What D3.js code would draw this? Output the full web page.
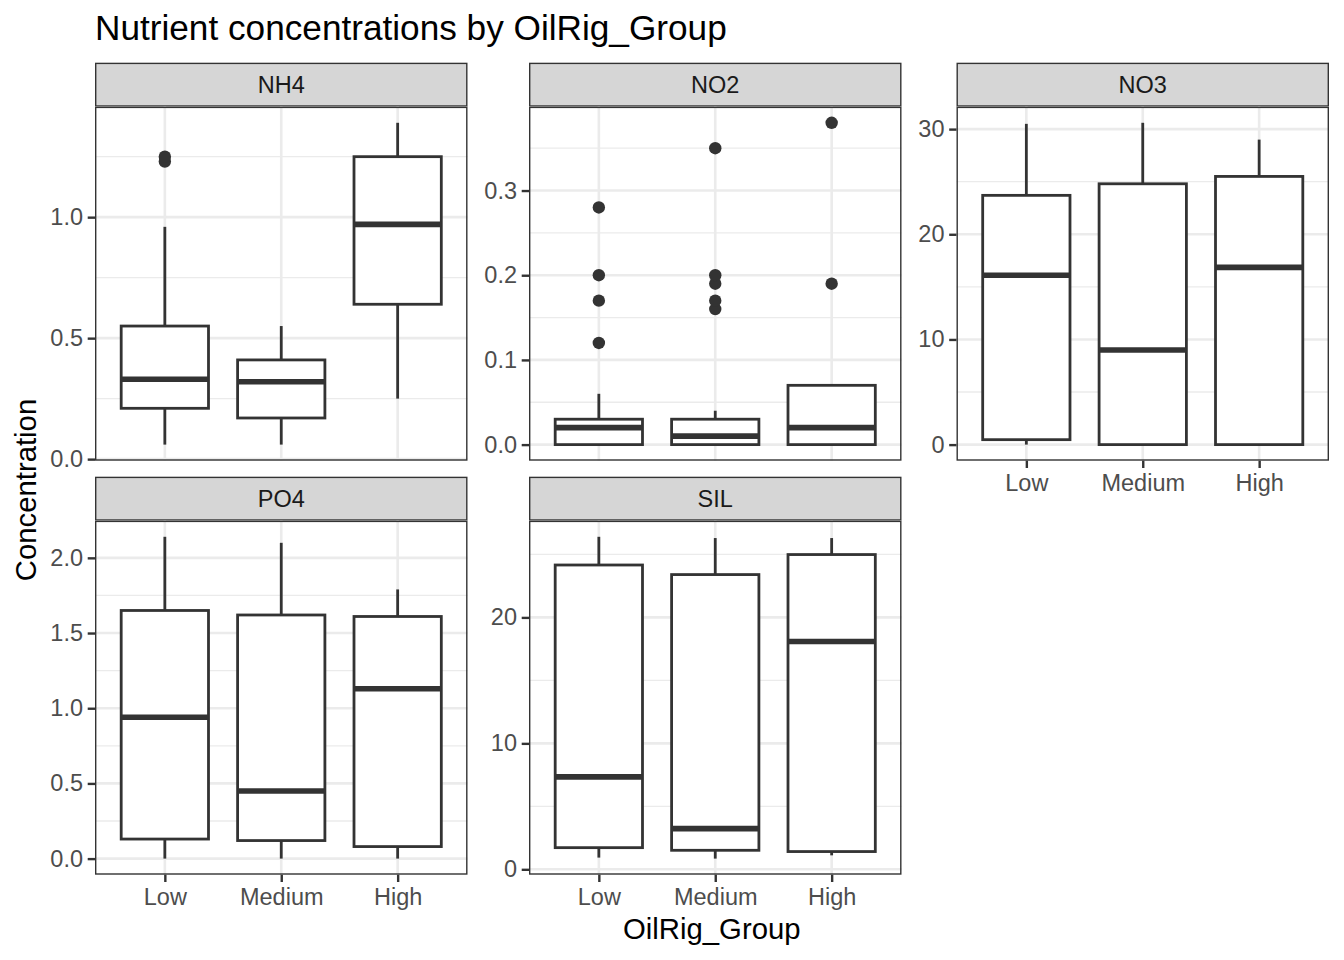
<!DOCTYPE html>
<html>
<head>
<meta charset="utf-8">
<script src="https://cdn.jsdelivr.net/npm/d3@7"></script>
<style>
  body { margin: 0; background: #fff; }
  text { font-family: "Liberation Sans", Arial, Helvetica, sans-serif; }
</style>
</head>
<body>
<div id="chart"></div>
<script>
  var groups = ["Low", "Medium", "High"];
  var nutrients = ["NH4", "NO2", "NO3", "PO4", "SIL"];

  // per group: [lower whisker, q1, median, q3, upper whisker]
  var nh4Stats = [[0.06, 0.21, 0.33, 0.55, 0.96], [0.06, 0.17, 0.32, 0.41, 0.55], [0.25, 0.64, 0.97, 1.25, 1.39]];
  var no2Stats = [[0, 0, 0.02, 0.03, 0.06], [0, 0, 0.01, 0.03, 0.04], [0, 0, 0.02, 0.07, 0.07]];
  var no3Stats = [[0, 0.47, 16.1, 23.7, 30.5], [0, 0, 9.0, 24.8, 30.6], [0, 0, 16.85, 25.5, 29.0]];
  var po4Stats = [[0, 0.13, 0.94, 1.65, 2.14], [0, 0.12, 0.45, 1.62, 2.1], [0, 0.08, 1.13, 1.61, 1.79]];
  var silStats = [[0.93, 1.72, 7.34, 24.16, 26.4], [0.85, 1.51, 3.23, 23.4, 26.3], [1.11, 1.41, 18.09, 24.99, 26.3]];

  var nh4Outliers = [[1.23, 1.25], [], []];
  var no2Outliers = [[0.12, 0.17, 0.20, 0.28], [0.16, 0.17, 0.19, 0.20, 0.35], [0.19, 0.38]];
  var no3Outliers = [[], [], []];
  var po4Outliers = [[], [], []];
  var silOutliers = [[], [], []];

  var nh4Ticks = [0, 0.5, 1.0];
  var no2Ticks = [0, 0.1, 0.2, 0.3];
  var no3Ticks = [0, 10, 20, 30];
  var po4Ticks = [0, 0.5, 1.0, 1.5, 2.0];
  var silTicks = [0, 10, 20];

  var statsList = [nh4Stats, no2Stats, no3Stats, po4Stats, silStats];
  var outlierList = [nh4Outliers, no2Outliers, no3Outliers, po4Outliers, silOutliers];
  var tickList = [nh4Ticks, no2Ticks, no3Ticks, po4Ticks, silTicks];
  var formats = [d3.format(".1f"), d3.format(".1f"), d3.format("d"), d3.format(".1f"), d3.format("d")];

  var width = 1344, height = 960;
  var panelLeft = [95, 529, 956.5];
  var stripTop = [62.7, 476.7];
  var panelW = 372.5, stripH = 44, panelH = 354;
  var ink = "#333333";

  var svg = d3.select("#chart").append("svg")
    .attr("width", width)
    .attr("height", height)
    .style("background-color", "white");

  nutrients.forEach(function(name, i) {
    var col = i % 3, row = Math.floor(i / 3);
    var stats = statsList[i], outs = outlierList[i], ticks = tickList[i];
    var px = panelLeft[col], py = stripTop[row] + stripH;

    // y limits from data, 5% expansion like ggplot
    var all = d3.merge(stats).concat(d3.merge(outs));
    var lo = d3.min(all), hi = d3.max(all), r = hi - lo;
    var yScale = d3.scaleLinear().domain([lo - 0.05 * r, hi + 0.05 * r]).range([panelH, 0]);
    var xScale = d3.scalePoint().domain(groups).range([0, panelW]).padding(0.6);
    var boxW = xScale.step() * 0.75;

    // minor breaks: midpoints, extended one step each side
    var step = ticks[1] - ticks[0];
    var minors = [];
    for (var k = -1; k < ticks.length; k++) {
      var m = ticks[0] + step * (k + 0.5);
      if (m > yScale.domain()[0] && m < yScale.domain()[1]) minors.push(m);
    }

    // strip
    svg.append("rect")
      .attr("x", px + 0.7).attr("y", stripTop[row] + 0.7)
      .attr("width", panelW - 1.4).attr("height", stripH - 1.4)
      .attr("fill", "#D6D6D6").attr("stroke", ink).attr("stroke-width", 1.4);
    svg.append("text")
      .attr("x", px + panelW / 2).attr("y", stripTop[row] + stripH / 2 + 8.4)
      .attr("text-anchor", "middle")
      .attr("font-size", "23.5px")
      .attr("fill", "#1A1A1A")
      .text(name);

    var g = svg.append("g").attr("transform", "translate(" + px + "," + py + ")");

    g.append("rect").attr("width", panelW).attr("height", panelH).attr("fill", "white");

    g.selectAll(".minor").data(minors).enter().append("line")
      .attr("x1", 0).attr("x2", panelW)
      .attr("y1", function(d) { return yScale(d); })
      .attr("y2", function(d) { return yScale(d); })
      .attr("stroke", "#EBEBEB").attr("stroke-width", 1.3);
    g.selectAll(".hmajor").data(ticks).enter().append("line")
      .attr("x1", 0).attr("x2", panelW)
      .attr("y1", function(d) { return yScale(d); })
      .attr("y2", function(d) { return yScale(d); })
      .attr("stroke", "#EBEBEB").attr("stroke-width", 2.6);
    g.selectAll(".vmajor").data(groups).enter().append("line")
      .attr("y1", 0).attr("y2", panelH)
      .attr("x1", function(d) { return xScale(d); })
      .attr("x2", function(d) { return xScale(d); })
      .attr("stroke", "#EBEBEB").attr("stroke-width", 2.6);

    // boxes
    var boxes = g.selectAll(".box").data(stats).enter().append("g")
      .attr("transform", function(d, j) { return "translate(" + xScale(groups[j]) + ",0)"; });
    boxes.append("line")
      .attr("y1", function(d) { return yScale(d[3]); })
      .attr("y2", function(d) { return yScale(d[4]); })
      .attr("stroke", ink).attr("stroke-width", 2.8);
    boxes.append("line")
      .attr("y1", function(d) { return yScale(d[0]); })
      .attr("y2", function(d) { return yScale(d[1]); })
      .attr("stroke", ink).attr("stroke-width", 2.8);
    boxes.append("rect")
      .attr("x", -boxW / 2).attr("width", boxW)
      .attr("y", function(d) { return yScale(d[3]); })
      .attr("height", function(d) { return yScale(d[1]) - yScale(d[3]); })
      .attr("fill", "white").attr("stroke", ink).attr("stroke-width", 2.8);
    boxes.append("line")
      .attr("x1", -boxW / 2).attr("x2", boxW / 2)
      .attr("y1", function(d) { return yScale(d[2]); })
      .attr("y2", function(d) { return yScale(d[2]); })
      .attr("stroke", ink).attr("stroke-width", 5.6);

    // outliers
    outs.forEach(function(list, j) {
      g.selectAll(".out" + j).data(list).enter().append("circle")
        .attr("cx", xScale(groups[j]))
        .attr("cy", function(d) { return yScale(d); })
        .attr("r", 6.2)
        .attr("fill", ink);
    });

    // panel border (clipped look)
    g.append("rect")
      .attr("x", 0.7).attr("y", 0.7)
      .attr("width", panelW - 1.4).attr("height", panelH - 1.4)
      .attr("fill", "none").attr("stroke", ink).attr("stroke-width", 1.4);

    // y axis
    var ya = g.append("g")
      .call(d3.axisLeft(yScale).tickValues(ticks).tickFormat(formats[i])
        .tickSizeInner(7.3).tickSizeOuter(0).tickPadding(4.7));
    ya.select(".domain").remove();
    ya.selectAll("line").attr("stroke", ink).attr("stroke-width", 2.4);
    ya.selectAll("text").attr("fill", "#4D4D4D").attr("font-size", "23.5px")
      .attr("font-family", null);

    // x axis only on panels with nothing below
    if (row === 1 || col === 2) {
      var xa = g.append("g")
        .attr("transform", "translate(0," + panelH + ")")
        .call(d3.axisBottom(xScale).tickSizeInner(7.3).tickSizeOuter(0).tickPadding(6.5));
      xa.select(".domain").remove();
      xa.selectAll("line").attr("stroke", ink).attr("stroke-width", 2.4);
      xa.selectAll("text").attr("fill", "#4D4D4D").attr("font-size", "23.5px")
        .attr("font-family", null);
    }
  });

  // titles
  svg.append("text")
    .attr("x", 95).attr("y", 40)
    .attr("font-size", "35.2px")
    .attr("fill", "black")
    .text("Nutrient concentrations by OilRig_Group");

  svg.append("text")
    .attr("x", 711.8).attr("y", 939)
    .attr("text-anchor", "middle")
    .attr("font-size", "29.3px")
    .attr("fill", "black")
    .text("OilRig_Group");

  svg.append("text")
    .attr("transform", "translate(36,490) rotate(-90)")
    .attr("text-anchor", "middle")
    .attr("font-size", "29.3px")
    .attr("fill", "black")
    .text("Concentration");
</script>
</body>
</html>
